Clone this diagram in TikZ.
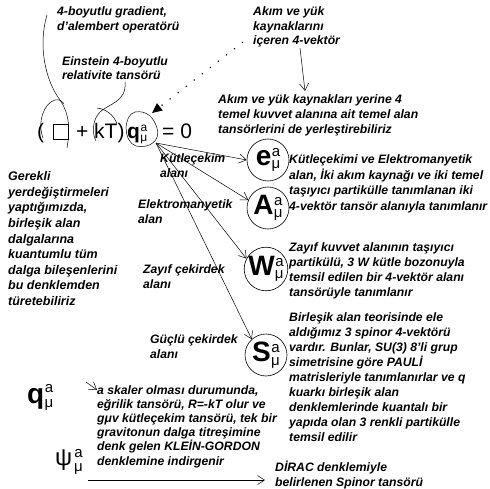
\documentclass[tikz,border=0pt]{standalone}
\usepackage{fontspec}
\setmainfont{Liberation Sans}
\usetikzlibrary{arrows.meta}
\newcommand{\tens}[4]{#1\kern0.5pt\begingroup\fontsize{#2}{#2}\selectfont\mdseries\upshape\raisebox{#3}{a}\llap{\raisebox{#4}{μ}}\endgroup}
\begin{document}
\begin{tikzpicture}[x=1pt,y=-1pt,
  txt/.style={font=\fontsize{12.2}{15}\selectfont\bfseries\itshape, align=left, inner sep=0pt, anchor=base west},
  eqf/.style={font=\fontsize{21}{21}\selectfont, inner sep=0pt, anchor=base west},
  circ/.style={draw, circle, minimum size=42pt, inner sep=0pt, line width=0.6pt},
  big/.style={font=\fontsize{28}{28}\selectfont\bfseries},
  arr/.style={line width=0.5pt, -{Straight Barb[length=7pt,width=9pt,line width=0.5pt]}},
  hand/.style={line width=0.5pt}
]
\useasboundingbox (0,0) rectangle (490,489);

% top texts (anchor = baseline of the last line)
\node[txt, font=\fontsize{12.2}{14.5}\selectfont\bfseries\itshape] (grad) at (57,30.5) {4-boyutlu gradient,\\d'alembert operatörü};
\node[txt, font=\fontsize{12.2}{14}\selectfont\bfseries\itshape] (ein) at (62,80) {Einstein 4-boyutlu\\relativite tansörü};
\node[txt, font=\fontsize{12.2}{14.5}\selectfont\bfseries\itshape] (akim) at (253,45) {Akım ve yük\\kaynaklarını\\içeren 4-vektör};
\node[txt] (yerine) at (218,134) {Akım ve yük kaynakları yerine 4\\temel kuvvet alanına ait temel alan\\tansörlerini de yerleştirebiliriz};

% equation
\node[eqf] (lpar) at (37,139) {(};
\node[draw, minimum width=15pt, minimum height=15pt, inner sep=0pt, line width=0.6pt] (dal) at (60.5,131.5) {};
\node[eqf] (plus) at (76,139) {+};
\node[eqf] (kT) at (94,139) {kT)};
\node[eqf] (q) at (127,139) {\tens{\bfseries q}{12}{7.5pt}{-3pt}};
\node[eqf] (eqz) at (162,139) {= 0};

% hand-drawn curves
\draw[hand] (47,15) .. controls (38,45) and (45,80) .. (60,100) .. controls (70,115) and (70,130) .. (67,148);
\draw[hand] (43,138) .. controls (37,122) and (44,103) .. (55,100) .. controls (59,99) and (62,101) .. (64,104);
\draw[hand] (125,82) .. controls (127,102) and (108,104) .. (100,112) .. controls (92,120) and (92,134) .. (96,141);
\draw[hand] (97,108) .. controls (106,109) and (114,115) .. (117,124);
\draw[hand] (135,112) .. controls (123,115) and (123,142) .. (136,146) .. controls (150,149) and (161,140) .. (157,128) .. controls (154,118) and (147,110) .. (135,112);

% dotted arrow
\coordinate (dotstart) at (243,42);
\coordinate (qtop) at (152,113);
\draw[line width=1.1pt, dash pattern=on 1.2pt off 9pt, -{Triangle[length=10pt,width=9pt]}] (dotstart) -- (qtop);

% arrow akim -> yerine
\coordinate (a1) at (300,48);
\coordinate (a2) at (305,91);
\draw[arr] (a1) -- (a2);

% circles
\node[circ] (e) at (268,160) {\tens{\fontsize{28}{28}\selectfont\bfseries e}{15}{9pt}{-3.5pt}};
\node[circ] (A) at (268,208) {\tens{\fontsize{28}{28}\selectfont\bfseries A}{15}{9pt}{-3.5pt}};
\node[circ] (W) at (266,269) {\tens{\fontsize{28}{28}\selectfont\bfseries W}{15}{9pt}{-3.5pt}};
\node[circ] (S) at (266,355) {\tens{\fontsize{28}{28}\selectfont\bfseries S}{15}{9pt}{-3.5pt}};

% fan arrows
\coordinate (qsrc) at (156,143);
\draw[arr] (qsrc) -- (e.west);
\draw[arr] (qsrc) -- (A.158);
\draw[arr] (qsrc) -- (W.152);
\draw[arr] (qsrc) -- (S.132);

% labels
\node[txt] (lk) at (160,178) {Kütleçekim\\alanı};
\node[txt] (le) at (138,224) {Elektromanyetik\\alan};
\node[txt] (lz) at (143,288) {Zayıf çekirdek\\alanı};
\node[txt] (lg) at (150,358) {Güçlü çekirdek\\alanı};

% left text
\node[txt, font=\fontsize{12.5}{15.5}\selectfont\bfseries\itshape] (ger) at (8,305) {Gerekli\\yerdeğiştirmeleri\\yaptığımızda,\\birleşik alan\\dalgalarına\\kuantumlu tüm\\dalga bileşenlerini\\bu denklemden\\türetebiliriz};

% right texts
\node[txt, font=\fontsize{12.2}{15.5}\selectfont\bfseries\itshape] (te) at (289,210.5) {Kütleçekimi ve Elektromanyetik\\alan, İki akım kaynağı ve iki temel\\taşıyıcı partikülle tanımlanan iki\\4-vektör tansör alanıyla tanımlanır};
\node[txt] (tw) at (289,296) {Zayıf kuvvet alanının taşıyıcı\\partikülü, 3 W kütle bozonuyla\\temsil edilen bir 4-vektör alanı\\tansörüyle tanımlanır};
\node[txt] (ts) at (289,441) {Birleşik alan teorisinde ele\\aldığımız 3 spinor 4-vektörü\\vardır. Bunlar, SU(3) 8'li grup\\simetrisine göre PAULİ\\matrisleriyle tanımlanırlar ve q\\kuarkı birleşik alan\\denklemlerinde kuantalı bir\\yapıda olan 3 renkli partikülle\\temsil edilir};

% bottom
\node[eqf, font=\fontsize{28}{28}\selectfont] (qb) at (27,403) {\tens{\bfseries q}{15}{11pt}{-4pt}};
\node[txt, font=\fontsize{12.2}{14.2}\selectfont\bfseries\itshape] (tq) at (97,465) {a skaler olması durumunda,\\eğrilik tansörü, R=-kT olur ve\\gμv kütleçekim tansörü, tek bir\\gravitonun dalga titreşimine\\denk gelen KLEİN-GORDON\\denklemine indirgenir};
\coordinate (qbout) at (86,382);
\coordinate (tqin) at (97,390);
\draw[arr] (qbout) -- (tqin);

\node[eqf, font=\fontsize{24}{24}\selectfont] (psi) at (55,465) {ψ\kern2pt\begingroup\fontsize{15}{15}\selectfont\raisebox{8pt}{a}\llap{\raisebox{-6pt}{μ}}\endgroup};
\node[txt] (dirac) at (275,486) {DİRAC denklemiyle\\belirlenen Spinor tansörü};
\coordinate (psiout) at (88,480);
\draw[arr] (psiout) -- ([xshift=-10pt]dirac.west |- psiout);
\end{tikzpicture}
\end{document}
